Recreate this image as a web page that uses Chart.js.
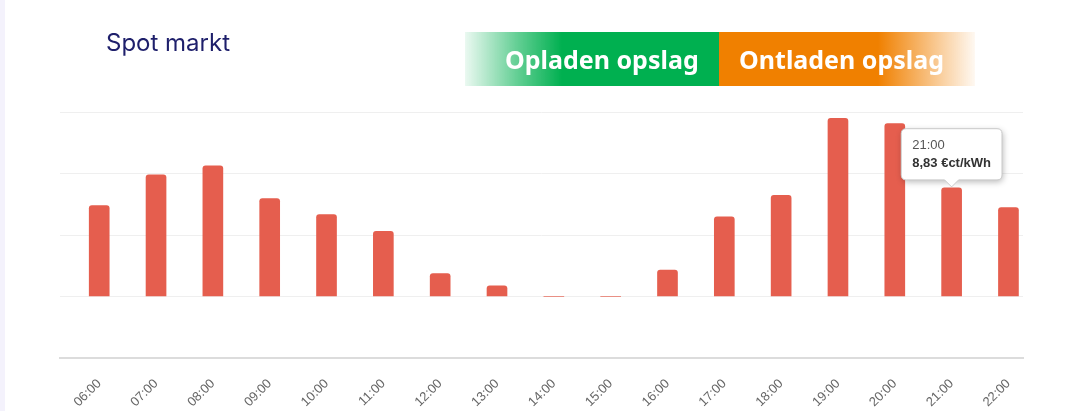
<!DOCTYPE html>
<html>
<head>
<meta charset="utf-8">
<script src="https://cdn.jsdelivr.net/npm/chart.js@4/dist/chart.umd.min.js"></script>
<style>
  html, body { margin: 0; padding: 0; background: #ffffff; }
  #wrap { position: relative; width: 1078px; height: 411px; overflow: hidden; background: #fff; }
  #strip { position: absolute; left: 0; top: 0; width: 5px; height: 411px; background: #f4f2fc; }
  #title { position: absolute; left: 106px; top: 31px; font-family: Inter, "Noto Sans", sans-serif; font-size: 24px; line-height: 24px; color: #1e1f6b; white-space: nowrap; }
  #banner { position: absolute; left: 465px; top: 32px; width: 510px; height: 54px;
    background: linear-gradient(90deg, rgba(0,176,80,0.08) 0%, rgba(0,176,80,0.6) 10%, rgb(0,176,80) 19%, rgb(0,176,80) 49.8%, rgb(240,128,0) 49.8%, rgb(240,128,0) 81%, rgba(240,128,0,0.55) 90%, rgba(240,128,0,0.05) 100%); }
  .btxt { position: absolute; top: 15px; font-family: "Noto Sans", sans-serif; font-weight: 700; font-size: 25px; line-height: 25px; color: #fff; white-space: nowrap; }
  #c { position: absolute; left: 0; top: 0; }
</style>
</head>
<body>
<div id="wrap">
  <div id="strip"></div>
  <canvas id="c" width="1078" height="411"></canvas>
  <div id="title">Spot markt</div>
  <div id="banner">
    <div class="btxt" style="left:40px">Opladen opslag</div>
    <div class="btxt" style="left:274px">Ontladen opslag</div>
  </div>
</div>
<script>
const categories = ['06:00','07:00','08:00','09:00','10:00','11:00','12:00','13:00','14:00','15:00','16:00','17:00','18:00','19:00','20:00','21:00','22:00'];
const values = [7.39, 9.89, 10.63, 7.96, 6.66, 5.30, 1.87, 0.87, 0, 0, 2.15, 6.47, 8.23, 14.48, 14.05, 8.83, 7.23];
const unit = '€ct/kWh';
const yMin = -5, yMax = 15, yStep = 5;
const activeIndex = 15;

Chart.defaults.font.family = '"Liberation Sans", Arial, sans-serif';

const tooltipShadow = {
  id: 'tooltipShadow',
  beforeTooltipDraw(chart, args) {
    const t = args.tooltip;
    if (!t || !t.opacity) return;
    const ctx = chart.ctx;
    ctx.save();
    ctx.shadowColor = 'rgba(0,0,0,0.28)';
    ctx.shadowBlur = 6;
    ctx.shadowOffsetX = 1;
    ctx.shadowOffsetY = 2;
    ctx.fillStyle = '#fff';
    ctx.beginPath();
    ctx.roundRect(t.x, t.y, t.width, t.height, 5);
    ctx.fill();
    ctx.restore();
  }
};

const chart = new Chart(document.getElementById('c'), {
  type: 'bar',
  data: {
    datasets: [{
      data: categories.map((c, i) => ({ x: i, y: values[i] })),
      backgroundColor: '#e55e4e',
      hoverBackgroundColor: '#e55e4e',
      borderRadius: 3,
      borderSkipped: 'start',
      barThickness: 20
    }]
  },
  plugins: [tooltipShadow],
  options: {
    responsive: false,
    devicePixelRatio: 1,
    animation: false,
    events: [],
    layout: { padding: { left: 60, right: 55, top: 112, bottom: 0 } },
    plugins: {
      legend: { display: false },
      title: { display: false },
      tooltip: {
        enabled: true,
        backgroundColor: '#ffffff',
        borderColor: '#c9c9c9',
        borderWidth: 1,
        cornerRadius: 5,
        titleColor: '#555555',
        titleFont: { size: 13, weight: 'normal' },
        bodyColor: '#333333',
        bodyFont: { size: 13, weight: 'bold' },
        padding: { top: 9, bottom: 9, left: 11, right: 11 },
        titleMarginBottom: 2,
        displayColors: false,
        caretSize: 7,
        caretPadding: 1,
        xAlign: 'center',
        yAlign: 'bottom',
        callbacks: {
          title: items => categories[items[0].dataIndex],
          label: ctx => values[ctx.dataIndex].toFixed(2).replace('.', ',') + ' ' + unit
        }
      }
    },
    scales: {
      x: {
        type: 'linear',
        offset: false,
        min: -0.69,
        max: 16.256,
        grid: { display: false, drawTicks: false, offset: false },
        border: { display: true, color: '#dcdcdc', width: 2 },
        afterFit: s => { s.height = 53; },
        ticks: {
          stepSize: 1,
          includeBounds: false,
          autoSkip: false,
          maxRotation: 45,
          minRotation: 45,
          padding: 18,
          color: '#666666',
          font: { size: 13 },
          callback: v => (Number.isInteger(v) && categories[v]) ? categories[v] : ''
        }
      },
      y: {
        min: yMin,
        max: yMax,
        grid: {
          drawTicks: false,
          color: ctx => ctx.tick && ctx.tick.value === yMin ? '#dcdcdc' : '#efefef',
          lineWidth: 1
        },
        border: { display: false },
        ticks: { display: false, stepSize: yStep }
      }
    }
  }
});

chart.tooltip.setActiveElements([{ datasetIndex: 0, index: activeIndex }], { x: 0, y: 0 });
chart.update();
</script>
</body>
</html>
